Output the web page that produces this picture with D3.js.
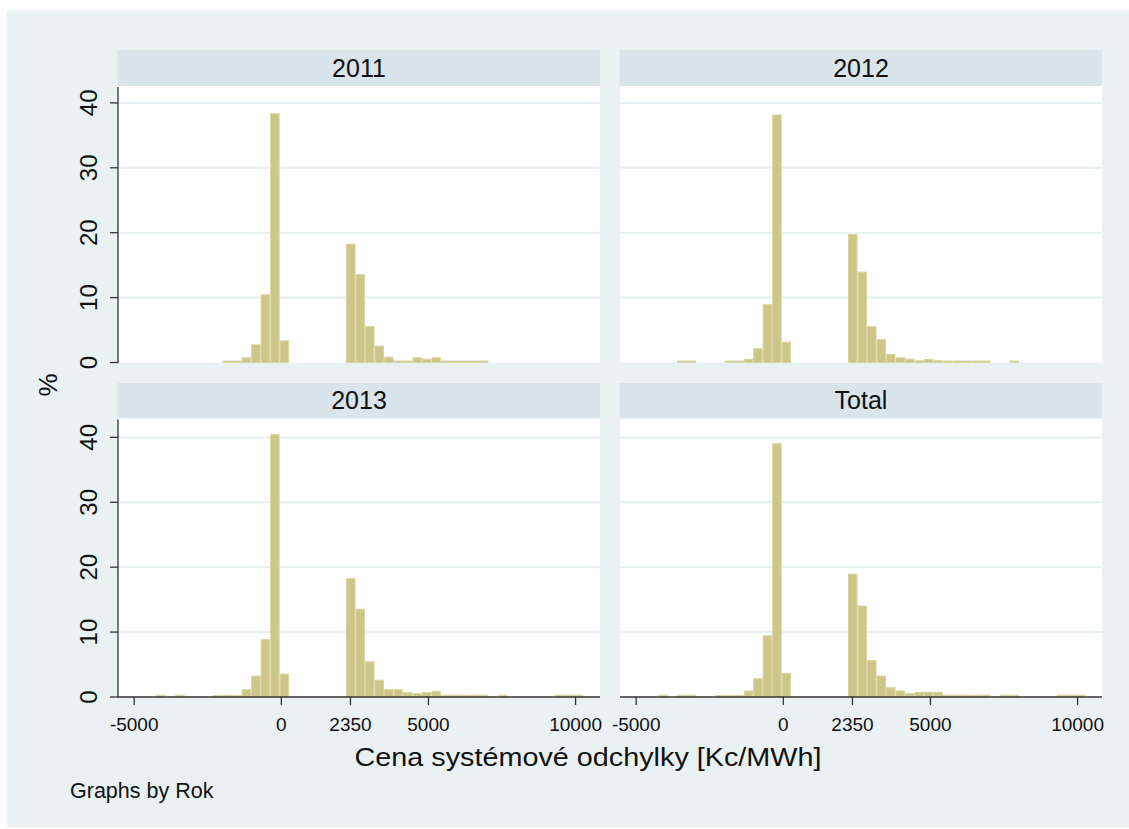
<!DOCTYPE html>
<html>
<head>
<meta charset="utf-8">
<script src="https://cdn.jsdelivr.net/npm/d3@7"></script>
<style>
  html, body { margin: 0; padding: 0; background: #ffffff; }
  svg { display: block; }
  text { font-family: "Liberation Sans", Arial, "DejaVu Sans", sans-serif; fill: #111; }
</style>
</head>
<body>
<svg id="chart" width="1129" height="829"></svg>
<script>
// Histogram of the system imbalance price, one panel per year plus the total.
const panels = ["2011", "2012", "2013", "Total"];

// Common bins shared by all panels (Kc/MWh)
const binStart = -4250;
const binWidth = 322.5;

// Percentage of observations in each bin (45 bins)
const pct2011 = [0,0,0,0,0,0,0,0.3,0.3,0.8, 2.8,10.5,38.4,3.4,0,0,0,0,0,0, 18.3,13.6,5.6,2.6,0.9,0.3,0.3,0.8,0.6,0.8, 0.3,0.3,0.3,0.3,0.3,0,0,0,0,0, 0,0,0,0,0];
const pct2012 = [0,0,0.3,0.3,0,0,0,0.3,0.3,0.55, 2.2,9.0,38.2,3.2,0,0,0,0,0,0, 19.8,14.0,5.6,3.6,1.3,0.8,0.6,0.35,0.55,0.35, 0.3,0.3,0.3,0.3,0.3,0,0,0.3,0,0, 0,0,0,0,0];
const pct2013 = [0.35,0,0.35,0,0,0,0.3,0.3,0.3,1.2, 3.3,8.9,40.5,3.6,0,0,0,0,0,0, 18.3,13.6,5.5,2.65,1.2,1.2,0.75,0.6,0.75,0.95, 0.35,0.35,0.35,0.35,0.35,0,0.35,0,0,0, 0,0,0.35,0.35,0.35];
const pctTotal = [0.35,0,0.35,0.35,0,0,0.3,0.3,0.3,1.0, 2.9,9.5,39.1,3.7,0,0,0,0,0,0, 19.0,14.1,5.7,3.3,1.5,1.0,0.6,0.8,0.8,0.8, 0.35,0.35,0.35,0.35,0.35,0,0.35,0.35,0,0, 0,0,0.35,0.35,0.35];
const series = [pct2011, pct2012, pct2013, pctTotal];

// Axis ticks
const xTicks = [-5000, 0, 2350, 5000, 10000];
const yTicks = [0, 10, 20, 30, 40];

const xTitle = "Cena systémové odchylky [Kc/MWh]";
const yTitle = "%";
const note = "Graphs by Rok";

// ---- styling ----
const BG = "#e9f1f3";
const STRIP = "#d9e5eb";
const GRID = "#e6eff1";
const BAR_FILL = "#cdc689";
const BAR_LINE = "#d9d49f";
const AXIS = "#333333";

const svg = d3.select("#chart");

svg.append("rect").attr("x", 7).attr("y", 10).attr("width", 1122).attr("height", 817).attr("fill", BG);

// Panel geometry
const cols = [{x0: 118, x1: 600}, {x0: 620, x1: 1102}];
const rows = [
  {stripTop: 50, stripBot: 86, base: 362.5},
  {stripTop: 383, stripBot: 418.5, base: 697}
];
const plotH = 276.5;
const yMax = 42.6;
const xDomain = [-5550, 10830];

panels.forEach((name, i) => {
  const c = cols[i % 2], r = rows[Math.floor(i / 2)];
  const x = d3.scaleLinear().domain(xDomain).range([c.x0, c.x1]);
  const y = d3.scaleLinear().domain([0, yMax]).range([r.base, r.base - plotH]);
  const g = svg.append("g");

  // strip with panel label
  g.append("rect").attr("x", c.x0 - 0.7).attr("y", r.stripTop)
    .attr("width", c.x1 - c.x0 + 0.7).attr("height", r.stripBot - r.stripTop).attr("fill", STRIP);
  g.append("text").attr("x", (c.x0 + c.x1) / 2).attr("y", r.stripBot - 9.5)
    .attr("text-anchor", "middle").attr("font-size", 25).text(name);

  // plot region
  g.append("rect").attr("x", c.x0).attr("y", r.stripBot)
    .attr("width", c.x1 - c.x0).attr("height", r.base - r.stripBot).attr("fill", "#ffffff");

  // horizontal grid
  g.selectAll("line.grid").data(yTicks.filter(t => t > 0)).join("line")
    .attr("class", "grid")
    .attr("x1", c.x0).attr("x2", c.x1)
    .attr("y1", d => y(d)).attr("y2", d => y(d))
    .attr("stroke", GRID).attr("stroke-width", 2);

  // bars
  const bins = series[i].map((v, k) => ({lo: binStart + k * binWidth, hi: binStart + (k + 1) * binWidth, v}))
    .filter(b => b.v > 0);
  g.selectAll("rect.bar").data(bins).join("rect")
    .attr("class", "bar")
    .attr("x", d => x(d.lo) + 0.5)
    .attr("width", d => x(d.hi) - x(d.lo) - 1)
    .attr("y", d => y(d.v) + 0.5)
    .attr("height", d => Math.max(0, y(0) - y(d.v) - 0.5))
    .attr("fill", BAR_FILL)
    .attr("stroke", BAR_LINE).attr("stroke-width", 1);

  // y axis on the left column
  if (i % 2 === 0) {
    g.append("line").attr("x1", c.x0).attr("x2", c.x0)
      .attr("y1", r.stripBot + 1).attr("y2", r.base + 0.5)
      .attr("stroke", AXIS).attr("stroke-width", 1.3);
    g.selectAll("line.ytick").data(yTicks).join("line")
      .attr("class", "ytick")
      .attr("x1", c.x0 - 8).attr("x2", c.x0)
      .attr("y1", d => y(d)).attr("y2", d => y(d))
      .attr("stroke", AXIS).attr("stroke-width", 1.3);
    g.selectAll("text.ylab").data(yTicks).join("text")
      .attr("class", "ylab")
      .attr("transform", d => `translate(97,${y(d)}) rotate(-90)`)
      .attr("text-anchor", "middle").attr("font-size", 24)
      .text(d => d);
  }

  // x axis on the bottom row
  if (i >= 2) {
    g.append("line").attr("x1", c.x0).attr("x2", c.x1)
      .attr("y1", r.base).attr("y2", r.base)
      .attr("stroke", AXIS).attr("stroke-width", 1.3);
    g.selectAll("line.xtick").data(xTicks).join("line")
      .attr("class", "xtick")
      .attr("x1", d => x(d)).attr("x2", d => x(d))
      .attr("y1", r.base).attr("y2", r.base + 8)
      .attr("stroke", AXIS).attr("stroke-width", 1.3);
    g.selectAll("text.xlab").data(xTicks).join("text")
      .attr("class", "xlab")
      .attr("x", d => x(d)).attr("y", r.base + 33.5)
      .attr("text-anchor", "middle").attr("font-size", 19)
      .text(d => d);
  }
});

// axis titles and note
svg.append("text").attr("x", 588).attr("y", 766)
  .attr("text-anchor", "middle").attr("font-size", 26)
  .attr("textLength", 467).attr("lengthAdjust", "spacingAndGlyphs")
  .text(xTitle);

svg.append("text").attr("transform", "translate(57,385) rotate(-90)")
  .attr("text-anchor", "middle").attr("font-size", 26).text(yTitle);

svg.append("text").attr("x", 70).attr("y", 798)
  .attr("font-size", 21.5).text(note);
</script>
</body>
</html>
